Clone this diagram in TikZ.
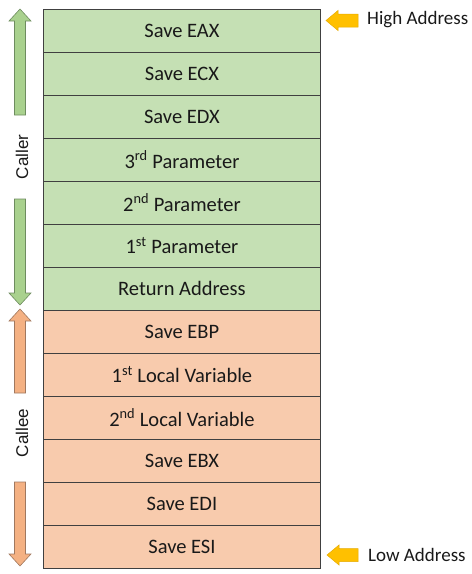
\documentclass[tikz,border=0pt]{standalone}
\usepackage{fontspec}
\setmainfont{Carlito}
\newfontfamily\arialfont{Liberation Sans}
\begin{document}
\begin{tikzpicture}[x=1pt,y=-1pt,
  cell/.style={draw=black!75, line width=0.9pt, minimum width=277pt, minimum height=43pt, inner sep=0pt, anchor=north west, font=\fontsize{20.5}{22}\selectfont, text=black!90},
  callerc/.style={cell, fill={rgb,255:red,197;green,224;blue,180}},
  calleec/.style={cell, fill={rgb,255:red,248;green,203;blue,173}},
  lbl/.style={font=\fontsize{19}{21}\selectfont, text=black!90},
  side/.style={font=\arialfont\fontsize{17}{19}\selectfont, text=black!90},
  garrow/.style={fill={rgb,255:red,169;green,209;blue,142}, draw={rgb,255:red,110;green,140;blue,95}, line width=0.6pt},
  oarrow/.style={fill={rgb,255:red,244;green,177;blue,131}, draw={rgb,255:red,160;green,120;blue,95}, line width=0.6pt},
  yarrow/.style={fill={rgb,255:red,255;green,192;blue,0}, draw={rgb,255:red,230;green,170;blue,0}, line width=0.5pt}
]
\useasboundingbox (0,0) rectangle (472,574);
\node[callerc] (r0) at (43,8.5) {Save EAX};
\node[callerc] (r1) at (43,51.5) {Save ECX};
\node[callerc] (r2) at (43,94.5) {Save EDX};
\node[callerc] (r3) at (43,137.5) {3\textsuperscript{rd} Parameter};
\node[callerc] (r4) at (43,180.5) {2\textsuperscript{nd} Parameter};
\node[callerc] (r5) at (43,223.5) {1\textsuperscript{st} Parameter};
\node[callerc] (r6) at (43,266.5) {Return Address};
\node[calleec] (r7) at (43,309.5) {Save EBP};
\node[calleec] (r8) at (43,352.5) {1\textsuperscript{st} Local Variable};
\node[calleec] (r9) at (43,395.5) {2\textsuperscript{nd} Local Variable};
\node[calleec] (r10) at (43,438.5) {Save EBX};
\node[calleec] (r11) at (43,481.5) {Save EDI};
\node[calleec] (r12) at (43,524.5) {Save ESI};
% caller / callee labels
\node[side, rotate=90] (caller) at (22,157) {Caller};
\node[side, rotate=90] (callee) at (22,433) {Callee};
% green arrows
\path[garrow] (20,9) -- (31,21) -- (25.5,21) -- (25.5,115) -- (14.5,115) -- (14.5,21) -- (9,21) -- cycle;
\path[garrow] (20,305) -- (31,293) -- (25.5,293) -- (25.5,199) -- (14.5,199) -- (14.5,293) -- (9,293) -- cycle;
% orange arrows
\path[oarrow] (20,309) -- (31,321) -- (25.5,321) -- (25.5,393) -- (14.5,393) -- (14.5,321) -- (9,321) -- cycle;
\path[oarrow] (20,566) -- (31,554) -- (25.5,554) -- (25.5,482) -- (14.5,482) -- (14.5,554) -- (9,554) -- cycle;
% yellow arrows
\path[yarrow] (326,20.5) -- (338,10.5) -- (338,14) -- (358,14) -- (358,27) -- (338,27) -- (338,30.5) -- cycle;
\path[yarrow] (327,555) -- (339,545) -- (339,548.5) -- (358,548.5) -- (358,561.5) -- (339,561.5) -- (339,565) -- cycle;
\node[lbl, anchor=west, inner sep=0pt] (high) at (367,19.5) {High Address};
\node[lbl, anchor=west, inner sep=0pt] (low) at (368,555) {Low Address};
\end{tikzpicture}
\end{document}
